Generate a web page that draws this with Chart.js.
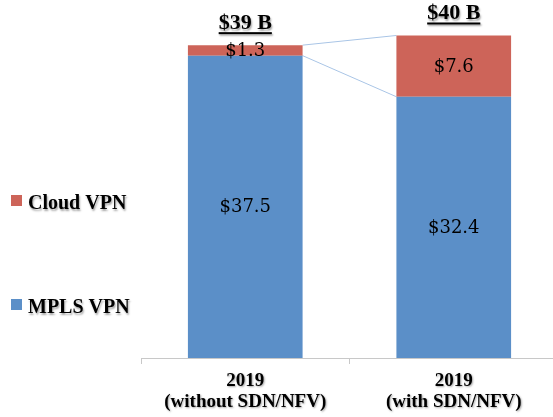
<!DOCTYPE html>
<html>
<head>
<meta charset="utf-8">
<script src="https://cdn.jsdelivr.net/npm/chart.js@4"></script>
<style>
  html, body { margin: 0; padding: 0; background: #fff; overflow: hidden; }
  #wrap { width: 560px; height: 417px; }
</style>
</head>
<body>
<div id="wrap"><canvas id="chart" width="560" height="417"></canvas></div>
<script>
// chart values
const categories = [['2019', '(without SDN/NFV)'], ['2019', '(with SDN/NFV)']];
const seriesNames = ['MPLS VPN', 'Cloud VPN'];
const mplsVpn = [37.5, 32.4];
const cloudVpn = [1.3, 7.6];
const totalLabels = ['$39 B', '$40 B'];

const BLUE = '#5b8fc8';
const RED = '#cd6459';
const BOLD = "bold 20px 'Liberation Serif', serif";

function withShadow(ctx) {
    ctx.shadowColor = 'rgba(0,0,0,0.35)';
    ctx.shadowOffsetX = 1;
    ctx.shadowOffsetY = 1.5;
    ctx.shadowBlur = 2;
}

const decorations = {
    id: 'decorations',
    beforeDatasetsDraw(chart) {
        // connector lines between the two stacks
        const ctx = chart.ctx;
        const low = chart.getDatasetMeta(0).data;
        const high = chart.getDatasetMeta(1).data;
        ctx.save();
        ctx.strokeStyle = '#a9c5e6';
        ctx.lineWidth = 1;
        [[high[0], high[1]], [low[0], low[1]]].forEach(([a, b]) => {
            ctx.beginPath();
            ctx.moveTo(a.x + a.width / 2, a.y);
            ctx.lineTo(b.x - b.width / 2, b.y);
            ctx.stroke();
        });
        ctx.restore();
    },
    afterDatasetsDraw(chart) {
        // value labels in the middle of each segment
        const ctx = chart.ctx;
        ctx.save();
        ctx.fillStyle = '#000';
        ctx.font = "18px 'DejaVu Serif', serif";
        ctx.textAlign = 'center';
        ctx.textBaseline = 'middle';
        chart.data.datasets.forEach((ds, di) => {
            chart.getDatasetMeta(di).data.forEach((bar, i) => {
                ctx.fillText('$' + ds.data[i].toFixed(1), bar.x, (bar.y + bar.base) / 2 + 1);
            });
        });
        ctx.restore();
    },
    afterDraw(chart) {
        const ctx = chart.ctx;
        const area = chart.chartArea;
        const xScale = chart.scales.x;
        const tops = chart.getDatasetMeta(1).data;

        ctx.save();
        withShadow(ctx);
        ctx.fillStyle = '#000';
        ctx.textAlign = 'center';

        // totals above the stacks, underlined
        ctx.font = "bold 22px 'Liberation Serif', serif";
        ctx.textBaseline = 'alphabetic';
        totalLabels.forEach((t, i) => {
            const x = tops[i].x;
            const y = tops[i].y - 16;
            ctx.fillText(t, x, y);
            const w = ctx.measureText(t).width;
            ctx.fillRect(x - w / 2, y + 3, w, 2);
        });

        // category labels
        ctx.font = "bold 19px 'Liberation Serif', serif";
        ctx.textBaseline = 'middle';
        categories.forEach((lines, i) => {
            const x = xScale.getPixelForValue(i);
            lines.forEach((ln, k) => ctx.fillText(ln, x, area.bottom + 23 + k * 21));
        });

        // legend on the left
        ctx.font = BOLD;
        ctx.textAlign = 'left';
        ctx.textBaseline = 'alphabetic';
        const items = [
            { name: seriesNames[1], color: RED, y: 209 },
            { name: seriesNames[0], color: BLUE, y: 313 }
        ];
        items.forEach(it => {
            ctx.fillText(it.name, 28, it.y);
            ctx.save();
            ctx.shadowColor = 'transparent';
            ctx.fillStyle = it.color;
            ctx.fillRect(11, it.y - 14, 11, 11);
            ctx.restore();
        });
        ctx.restore();
    }
};

new Chart(document.getElementById('chart'), {
    type: 'bar',
    data: {
        labels: categories.map(c => c.join(' ')),
        datasets: [
            { label: seriesNames[0], data: mplsVpn, backgroundColor: BLUE },
            { label: seriesNames[1], data: cloudVpn, backgroundColor: RED }
        ]
    },
    options: {
        responsive: false,
        animation: false,
        events: [],
        layout: { padding: { left: 141, right: 2, top: 0, bottom: 53 } },
        datasets: { bar: { barPercentage: 0.55, categoryPercentage: 1 } },
        plugins: { legend: { display: false }, tooltip: { enabled: false } },
        scales: {
            x: {
                stacked: true,
                ticks: { display: false },
                border: { color: '#c8c8c8', width: 1 },
                grid: { offset: true, drawOnChartArea: false, drawTicks: true, tickLength: 6, color: '#c8c8c8' }
            },
            y: {
                stacked: true,
                display: false,
                min: 0,
                max: 44.4
            }
        }
    },
    plugins: [decorations]
});
</script>
</body>
</html>
